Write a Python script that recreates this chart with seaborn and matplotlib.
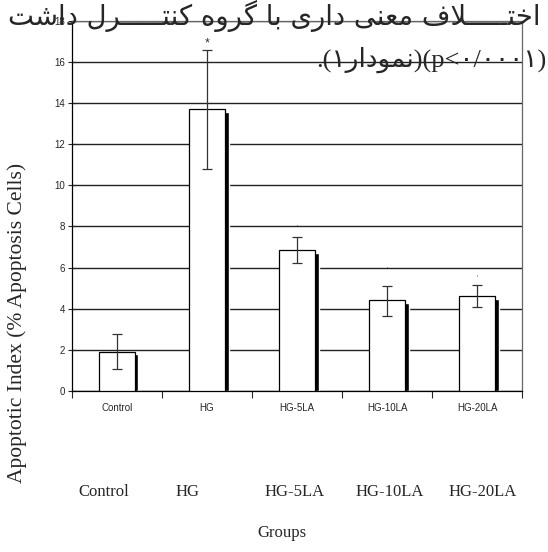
import numpy as np
import pandas as pd
import matplotlib
matplotlib.use("Agg")
import matplotlib.pyplot as plt
import seaborn as sns

# dados
grupos = ["Control", "HG", "HG-5LA", "HG-10LA", "HG-20LA"]
media = [1.9, 13.7, 6.85, 4.4, 4.6]
erro_baixo = [0.85, 2.9, 0.65, 0.75, 0.5]
erro_alto = [0.85, 2.9, 0.65, 0.7, 0.55]
marcas = ["", "*", "'", "'", "'"]
marca_y = [0, 16.9, 7.95, 5.9, 5.5]
y_ticks = [0, 2, 4, 6, 8, 10, 12, 14, 16, 18]

titulo_1 = "اختـــــلاف معنی داری با گروه کنتـــــرل داشت"
titulo_2_fa = "نمودار"
titulo_2_p = "(p<۰/۰۰۰۱)"

# formas de apresentacao (isolada, final, inicial, medial)
FORMAS = {
    "ا": ("\uFE8D", "\uFE8E", None, None),
    "ب": ("\uFE8F", "\uFE90", "\uFE91", "\uFE92"),
    "ت": ("\uFE95", "\uFE96", "\uFE97", "\uFE98"),
    "خ": ("\uFEA5", "\uFEA6", "\uFEA7", "\uFEA8"),
    "د": ("\uFEA9", "\uFEAA", None, None),
    "ر": ("\uFEAD", "\uFEAE", None, None),
    "ش": ("\uFEB5", "\uFEB6", "\uFEB7", "\uFEB8"),
    "ع": ("\uFEC9", "\uFECA", "\uFECB", "\uFECC"),
    "ف": ("\uFED1", "\uFED2", "\uFED3", "\uFED4"),
    "ل": ("\uFEDD", "\uFEDE", "\uFEDF", "\uFEE0"),
    "م": ("\uFEE1", "\uFEE2", "\uFEE3", "\uFEE4"),
    "ن": ("\uFEE5", "\uFEE6", "\uFEE7", "\uFEE8"),
    "و": ("\uFEED", "\uFEEE", None, None),
    "ه": ("\uFEE9", "\uFEEA", "\uFEEB", "\uFEEC"),
    "ی": ("\uFBFC", "\uFBFD", "\uFBFE", "\uFBFF"),
    "ک": ("\uFB8E", "\uFB8F", "\uFB90", "\uFB91"),
    "گ": ("\uFB92", "\uFB93", "\uFB94", "\uFB95"),
    "ـ": ("\u0640", "\u0640", "\u0640", "\u0640"),
}


def liga_esq(c):
    return c in FORMAS and FORMAS[c][2] is not None


def moldar(texto):
    # junta as letras e devolve na ordem visual (direita -> esquerda)
    saida = []
    i = 0
    n = len(texto)
    while i < n:
        c = texto[i]
        if c not in FORMAS:
            saida.append(c)
            i += 1
            continue
        antes = i > 0 and liga_esq(texto[i - 1])
        if c == "ل" and i + 1 < n and texto[i + 1] == "ا":
            saida.append("\uFEFC" if antes else "\uFEFB")
            i += 2
            continue
        depois = i + 1 < n and texto[i + 1] in FORMAS and liga_esq(c)
        iso, fin, ini, med = FORMAS[c]
        if antes and depois:
            g = med
        elif antes:
            g = fin
        elif depois:
            g = ini
        else:
            g = iso
        saida.append(g)
        i += 1
    return "".join(reversed(saida))


df = pd.DataFrame({"grupo": grupos, "media": media})

sns.set_theme(style="white")
plt.rcParams["font.family"] = ["Liberation Sans", "DejaVu Sans"]

fig = plt.figure(figsize=(5.48, 5.52), dpi=100)
ax = fig.add_axes([0.131, 0.292, 0.822, 0.670])

# sombra preta atras das barras
sombra = df.assign(media=df["media"] - 0.12)
sns.barplot(data=sombra, x="grupo", y="media", color="black", width=0.4,
            errorbar=None, ax=ax, zorder=2, saturation=1)
for p in ax.patches:
    p.set_x(p.get_x() + 0.04)

sns.barplot(data=df, x="grupo", y="media", color="white", width=0.4,
            errorbar=None, ax=ax, zorder=3, saturation=1,
            edgecolor="black", linewidth=0.9)

x = np.arange(len(grupos))
ax.errorbar(x, media, yerr=[erro_baixo, erro_alto], fmt="none",
            ecolor="#333333", elinewidth=0.9, capsize=3.5, capthick=0.9,
            zorder=4)
for xi, m, yy in zip(x, marcas, marca_y):
    if m:
        ax.text(xi, yy, m, ha="center", va="center",
                fontsize=9 if m == "*" else 5, color="#333333", zorder=5)

ax.set_ylim(0, 18)
ax.set_xlim(-0.5, len(grupos) - 0.5)
ax.set_yticks(y_ticks)
ax.yaxis.grid(True, color="#222222", linewidth=1.0)
ax.set_axisbelow(True)
ax.set_xlabel("")
ax.set_ylabel("")
ax.tick_params(axis="y", labelsize=7, length=6, direction="inout",
               width=0.8, left=True, pad=2)
ax.tick_params(axis="x", labelsize=7, length=0, pad=9)
ax.set_xticks(np.arange(len(grupos) + 1) - 0.5, minor=True)
ax.tick_params(axis="x", which="minor", length=5, width=0.8,
               direction="out", bottom=True)
for lado in ["left", "bottom"]:
    ax.spines[lado].set_color("black")
    ax.spines[lado].set_linewidth(0.9)
for lado in ["top", "right"]:
    ax.spines[lado].set_color("#666666")
    ax.spines[lado].set_linewidth(0.9)

# textos soltos da pagina
serif = ["Liberation Serif", "DejaVu Serif"]
fig.text(17 / 548, 1 - 323 / 552, "Apoptotic Index (% Apoptosis Cells)",
         rotation=90, ha="center", va="center", fontsize=15.5, family=serif)
pos_nomes = [104, 188, 295, 390, 483]
for nome, px in zip(grupos, pos_nomes):
    fig.text(px / 548, 1 - 492 / 552, nome, ha="center", va="center",
             fontsize=12, family=serif)
fig.text(282 / 548, 1 - 533 / 552, "Groups", ha="center", va="center",
         fontsize=12, family=serif)

linha1 = moldar(titulo_1)
linha2 = ".(" + "۱" + moldar(titulo_2_fa) + ")" + titulo_2_p
fig.text(0.5, 1 - 16 / 552, linha1, ha="center", va="center",
         fontsize=19.8, family=["DejaVu Sans"])
fig.text(546 / 548, 1 - 60 / 552, linha2, ha="right", va="center",
         fontsize=19, family=["Liberation Serif", "DejaVu Sans"])

fig.savefig("out.png", dpi=100)
